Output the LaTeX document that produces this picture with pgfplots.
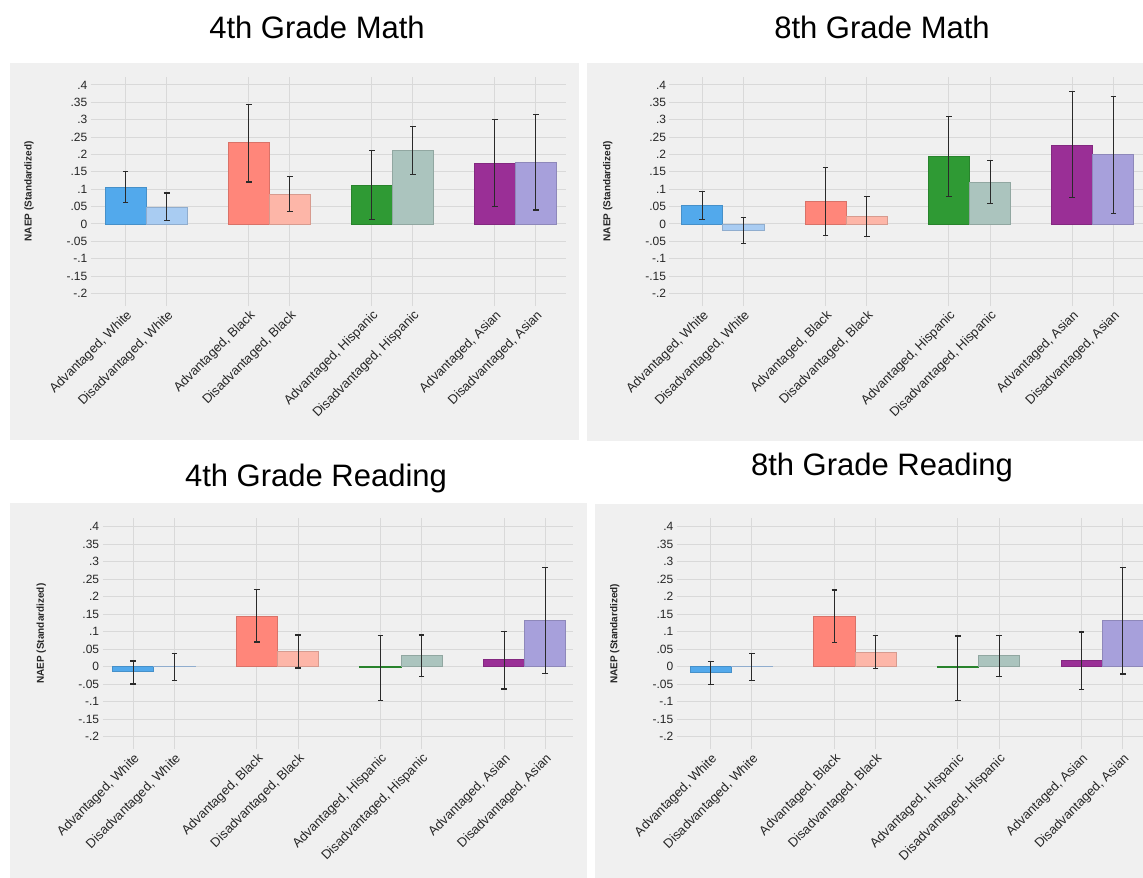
\documentclass[border=0pt]{standalone}
\usepackage{pgfplots}
\usepackage{pgfplotstable}
\pgfplotsset{compat=1.18}
\usepackage{fontspec}
\setmainfont{Liberation Sans}

\definecolor{panelbg}{HTML}{F0F0F0}
\definecolor{gridc}{HTML}{D9D9D9}
\definecolor{cAW}{HTML}{52A9EC}
\definecolor{cDW}{HTML}{A9CCF2}
\definecolor{cAB}{HTML}{FF867A}
\definecolor{cDB}{HTML}{FDB6A8}
\definecolor{cAH}{HTML}{2F9A34}
\definecolor{cDH}{HTML}{ABC4BE}
\definecolor{cAA}{HTML}{9A2F96}
\definecolor{cDA}{HTML}{A7A0DB}
\definecolor{errc}{HTML}{2A2A2A}

\pgfplotstableread{
x y lo hi
0 0.106 0.062 0.151
1 0.049 0.010 0.089
3 0.234 0.121 0.344
4 0.086 0.035 0.136
6 0.111 0.012 0.211
7 0.213 0.143 0.280
9 0.175 0.051 0.301
10 0.177 0.040 0.315
}\mathfour

\pgfplotstableread{
x y lo hi
0 0.054 0.014 0.093
1 -0.019 -0.057 0.018
3 0.065 -0.034 0.162
4 0.022 -0.036 0.078
6 0.194 0.080 0.309
7 0.121 0.059 0.182
9 0.226 0.076 0.380
10 0.199 0.030 0.366
}\matheight

\pgfplotstableread{
x y lo hi
0 -0.015 -0.050 0.016
1 0.001 -0.040 0.037
3 0.144 0.070 0.219
4 0.042 -0.004 0.090
6 -0.003 -0.097 0.088
7 0.031 -0.028 0.090
9 0.019 -0.064 0.099
10 0.131 -0.021 0.283
}\readfour

\pgfplotstableread{
x y lo hi
0 -0.015 -0.050 0.016
1 0.001 -0.040 0.037
3 0.144 0.070 0.219
4 0.042 -0.004 0.090
6 -0.003 -0.097 0.088
7 0.031 -0.028 0.090
9 0.019 -0.064 0.099
10 0.131 -0.021 0.283
}\readeight

\newcommand{\onebar}[4]{%
  \addplot[ybar, bar width=1, bar shift=0pt, fill=#4, draw=#4!85!black, line width=0.4pt,
    restrict x to domain=#2:#3,
    error bars/.cd, y dir=both, y explicit,
    error bar style={errc, line width=0.5pt},
    error mark options={rotate=90, errc, mark size=1.4pt, line width=0.6pt}]
    table[x=x, y=y, y error plus expr=\thisrow{hi}-\thisrow{y}, y error minus expr=\thisrow{y}-\thisrow{lo}] {#1};
}
\newcommand{\allbars}[1]{%
  \onebar{#1}{-0.1}{0.1}{cAW}
  \onebar{#1}{0.9}{1.1}{cDW}
  \onebar{#1}{2.9}{3.1}{cAB}
  \onebar{#1}{3.9}{4.1}{cDB}
  \onebar{#1}{5.9}{6.1}{cAH}
  \onebar{#1}{6.9}{7.1}{cDH}
  \onebar{#1}{8.9}{9.1}{cAA}
  \onebar{#1}{9.9}{10.1}{cDA}
}

\pgfplotsset{panel/.style={
  scale only axis, anchor=south west,
  ymin=-0.236, ymax=0.424,
  ytick={-0.2,-0.15,-0.1,-0.05,0,0.05,0.1,0.15,0.2,0.25,0.3,0.35,0.4},
  yticklabels={-.2,-.15,-.1,-.05,0,.05,.1,.15,.2,.25,.3,.35,.4},
  xtick={0,1,3,4,6,7,9,10},
  xticklabels={{Advantaged, White},{Disadvantaged, White},{Advantaged, Black},{Disadvantaged, Black},{Advantaged, Hispanic},{Disadvantaged, Hispanic},{Advantaged, Asian},{Disadvantaged, Asian}},
  grid=major, major grid style={draw=gridc, line width=0.5pt},
  axis line style={draw=none}, major tick length=0pt,
  yticklabel style={font=\fontsize{6}{7}\selectfont, text=black!85, inner sep=1.5pt},
  xticklabel style={font=\fontsize{6.5}{7}\selectfont, text=black!85, rotate=45, anchor=north east, inner sep=1pt},
  ylabel={NAEP (Standardized)},
  every axis y label/.style={at={(axis description cs:-0.13,0.5)}, rotate=90, anchor=center, font=\bfseries\fontsize{5}{6}\selectfont, text=black!85},
}}

\begin{document}
\begin{tikzpicture}
\useasboundingbox (0,0) rectangle (571.5pt,-438.5pt);
\clip (0,0) rectangle (571.5pt,-438.5pt);
\fill[white] (0,0) rectangle (571.5pt,-438.5pt);
% panel backgrounds
\fill[panelbg] (5pt,-31.3pt) rectangle (289.5pt,-220pt);
\fill[panelbg] (293.5pt,-31.3pt) rectangle (575pt,-220.5pt);
\fill[panelbg] (5pt,-251.5pt) rectangle (293.3pt,-440pt);
\fill[panelbg] (297.5pt,-252pt) rectangle (575pt,-440pt);
% titles
\node[font=\fontsize{15.5}{18}\selectfont] at (158.5pt,-13.5pt) {4th Grade Math};
\node[font=\fontsize{15.5}{18}\selectfont] at (441pt,-13.5pt) {8th Grade Math};
\node[font=\fontsize{15.5}{18}\selectfont] at (158pt,-239pt) {4th Grade Reading};
\node[font=\fontsize{15.5}{18}\selectfont] at (441pt,-233.5pt) {8th Grade Reading};

\begin{axis}[panel, at={(45.35pt,-153pt)}, width=237.4pt, height=114.7pt, xmin=-0.853, xmax=10.72]
\allbars{\mathfour}
\end{axis}
\begin{axis}[panel, at={(334.7pt,-153pt)}, width=236.75pt, height=114.7pt, xmin=-0.80, xmax=10.72]
\allbars{\matheight}
\end{axis}
\begin{axis}[panel, at={(51.25pt,-374.55pt)}, width=235.15pt, height=115.5pt, xmin=-0.745, xmax=10.67]
\allbars{\readfour}
\end{axis}
\begin{axis}[panel, at={(338.35pt,-374.65pt)}, width=237.85pt, height=115.5pt, xmin=-0.825, xmax=10.72]
\allbars{\readeight}
\end{axis}
\end{tikzpicture}
\end{document}
